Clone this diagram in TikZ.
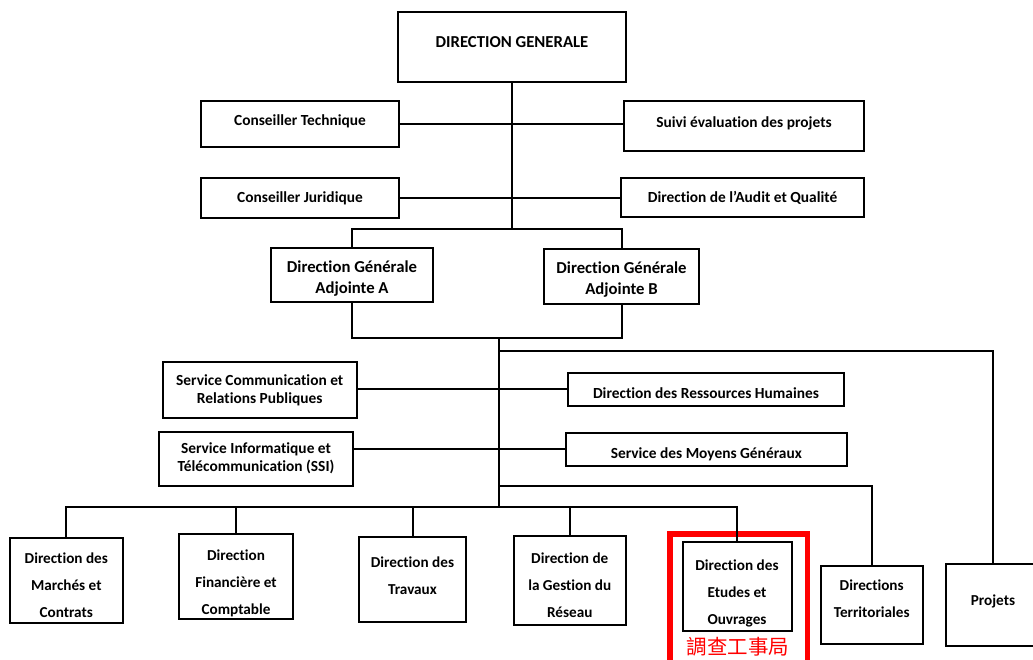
\documentclass[tikz,border=0pt]{standalone}
\usepackage{fontspec}
\setmainfont{Carlito}[Ligatures=NoCommon]
\newfontfamily\cjkfont{Noto Sans CJK TC}
\usepackage{tikz}
\definecolor{markRed}{RGB}{255,0,0}

\begin{document}
\begin{tikzpicture}[x=1pt, y=-1pt,
        unit/.style={draw, line width=2pt, inner sep=2pt, align=center,
          font=\bfseries\fontsize{15.4}{18}\selectfont},
        adj/.style={unit, font=\bfseries\fontsize{16.7}{21}\selectfont},
        low/.style={unit, font=\bfseries\fontsize{15.2}{27}\selectfont},
        link/.style={line width=2pt}
      ]
        \useasboundingbox (0,0) rectangle (1033,659);

        % Direction and advisers
        \node[adj, minimum width=228pt, minimum height=70pt, text depth=10pt] (dg) at (512,47) {DIRECTION GENERALE};
        \node[unit, minimum width=198pt, minimum height=46pt] (ct) at (300,124) {Conseiller Technique\rule[-7pt]{0pt}{0pt}};
        \node[unit, minimum width=240pt, minimum height=50pt] (suivi) at (744,126) {Suivi évaluation des projets\rule[-8pt]{0pt}{0pt}};
        \node[unit, minimum width=198pt, minimum height=40pt] (cj) at (300,198) {Conseiller Juridique};
        \node[unit, minimum width=243pt, minimum height=39pt] (audit) at (742.5,197.5) {Direction de l’Audit et Qualité};

        % Deputies
        \node[adj, minimum width=162pt, minimum height=54pt] (dgaA) at (352,275) {\rule{0pt}{18pt}Direction Générale\\Adjointe A};
        \node[adj, minimum width=155pt, minimum height=55pt] (dgaB) at (621.5,276.5) {\rule{0pt}{17pt}Direction Générale\\Adjointe B};

        % Services
        \node[unit, minimum width=194pt, minimum height=56pt] (scom) at (259.7,390) {Service Communication et\\Relations Publiques};
        \node[unit, minimum width=276pt, minimum height=33pt] (drh) at (706,389.3) {\rule{0pt}{18.8pt}Direction des Ressources Humaines};
        \node[unit, minimum width=194pt, minimum height=54pt] (sinfo) at (256,458.7) {Service Informatique et\\Télécommunication (SSI)};
        \node[unit, minimum width=281pt, minimum height=33pt] (smg) at (706.3,449.2) {\rule{0pt}{21pt}Service des Moyens Généraux};

        % Directions
        \node[low, minimum width=113pt, minimum height=85pt] (marches) at (66.3,580.5) {\rule{0pt}{20.7pt}Direction des\\Marchés et\\Contrats};
        \node[low, minimum width=114pt, minimum height=85pt] (fin) at (236,576.5) {\rule{0pt}{23.7pt}Direction\\Financière et\\Comptable};
        \node[low, minimum width=107pt, minimum height=85pt] (trav) at (412.5,579.3) {Direction des\\Travaux\rule[-8pt]{0pt}{0pt}};
        \node[low, minimum width=112pt, minimum height=89pt] (gest) at (569.8,580) {\rule{0pt}{20.7pt}Direction de\\la Gestion du\\Réseau};
        \node[low, minimum width=109pt, minimum height=89pt] (etud) at (737,586.5) {\rule{0pt}{23.7pt}Direction des\\Etudes et\\Ouvrages};
        \node[low, minimum width=102pt, minimum height=78pt] (terr) at (871.7,605) {Directions\\Territoriales\rule[-13pt]{0pt}{0pt}};
        \node[low, minimum width=94pt, minimum height=82pt] (proj) at (993,605) {Projets\rule[-10pt]{0pt}{0pt}};

        % Highlight
        \draw[markRed, line width=5.7pt] (670,534) rectangle (807.5,690);
        \node[text=markRed, font=\cjkfont\fontsize{20.5}{24}\selectfont] (cjk) at (738,647) {調查工事局};

        % Junctions
        \coordinate (j1) at (511,229);
        \coordinate (j2) at (499,338);
        \coordinate (j3) at (499,507);
        \coordinate (j4) at (499,351);
        \coordinate (j5) at (499,486);

        % Upper links
        \draw[link] (dg.south) -- (dg.south |- j1);
        \draw[link] (ct.east) -- (ct.east -| suivi.west);
        \draw[link] (cj.east) -- (cj.east -| audit.west);
        \draw[link] (dgaA.north) -- (dgaA.north |- j1) -- (dgaB.north |- j1) -- (dgaB.north);
        \draw[link] (dgaA.south) -- (dgaA.south |- j2) -- (dgaB.south |- j2) -- (dgaB.south);

        % Trunk and services
        \draw[link] (j2) -- (j3);
        \draw[link] (drh.west) -- (drh.west -| scom.east);
        \draw[link] (smg.west) -- (smg.west -| sinfo.east);
        \draw[link] (j4) -| (proj.north);
        \draw[link] (j5) -| (terr.north);

        % Bottom bus
        \draw[link] (marches.north) |- (etud.north |- j3) -- (etud.north);
        \foreach \d in {fin,trav,gest}
          \draw[link] (\d.north) -- (\d.north |- j3);
      \end{tikzpicture}
\end{document}
